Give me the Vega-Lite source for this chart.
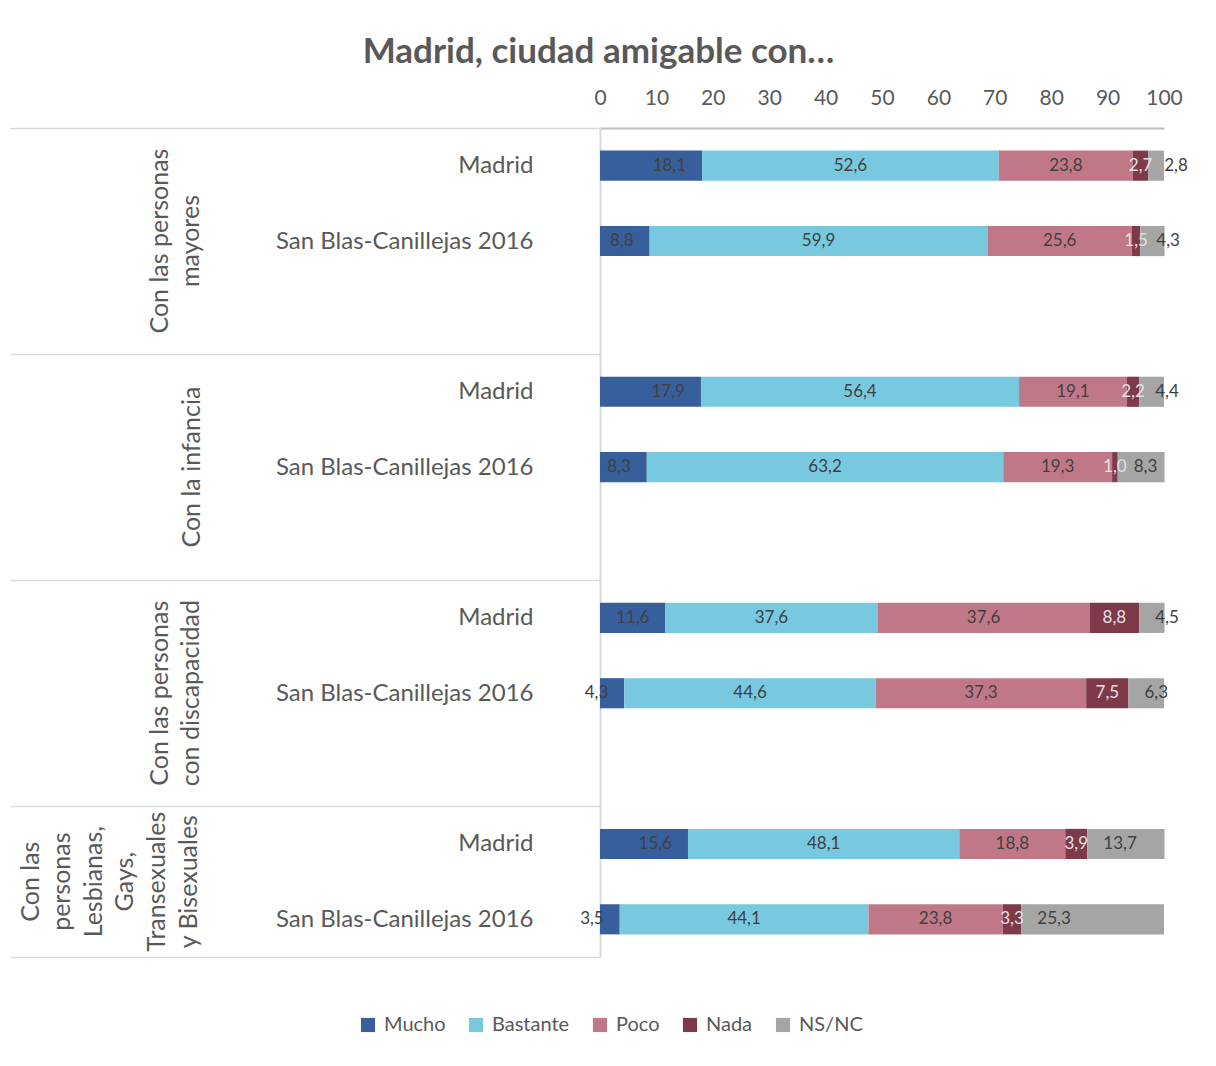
{
  "$schema": "https://vega.github.io/schema/vega-lite/v6.json",
  "width": 564,
  "height": 829,
  "autosize": {"type": "none"},
  "padding": {"left": 600, "top": 128, "right": 52, "bottom": 109},
  "title": {"text": "Madrid, ciudad amigable con…", "anchor": "middle", "frame": "bounds", "font": "Lato", "fontSize": 35, "fontWeight": "bold", "color": "#595959", "offset": 17},
  "data": {"values": [
    {"grupo": "Con las personas~mayores", "fila": "Madrid", "cat": "Mucho", "valor": 18.1},
    {"grupo": "Con las personas~mayores", "fila": "Madrid", "cat": "Bastante", "valor": 52.6},
    {"grupo": "Con las personas~mayores", "fila": "Madrid", "cat": "Poco", "valor": 23.8},
    {"grupo": "Con las personas~mayores", "fila": "Madrid", "cat": "Nada", "valor": 2.7},
    {"grupo": "Con las personas~mayores", "fila": "Madrid", "cat": "NS/NC", "valor": 2.8},
    {"grupo": "Con las personas~mayores", "fila": "San Blas-Canillejas 2016", "cat": "Mucho", "valor": 8.8},
    {"grupo": "Con las personas~mayores", "fila": "San Blas-Canillejas 2016", "cat": "Bastante", "valor": 59.9},
    {"grupo": "Con las personas~mayores", "fila": "San Blas-Canillejas 2016", "cat": "Poco", "valor": 25.6},
    {"grupo": "Con las personas~mayores", "fila": "San Blas-Canillejas 2016", "cat": "Nada", "valor": 1.5},
    {"grupo": "Con las personas~mayores", "fila": "San Blas-Canillejas 2016", "cat": "NS/NC", "valor": 4.3},
    {"grupo": "Con la infancia", "fila": "Madrid", "cat": "Mucho", "valor": 17.9},
    {"grupo": "Con la infancia", "fila": "Madrid", "cat": "Bastante", "valor": 56.4},
    {"grupo": "Con la infancia", "fila": "Madrid", "cat": "Poco", "valor": 19.1},
    {"grupo": "Con la infancia", "fila": "Madrid", "cat": "Nada", "valor": 2.2},
    {"grupo": "Con la infancia", "fila": "Madrid", "cat": "NS/NC", "valor": 4.4},
    {"grupo": "Con la infancia", "fila": "San Blas-Canillejas 2016", "cat": "Mucho", "valor": 8.3},
    {"grupo": "Con la infancia", "fila": "San Blas-Canillejas 2016", "cat": "Bastante", "valor": 63.2},
    {"grupo": "Con la infancia", "fila": "San Blas-Canillejas 2016", "cat": "Poco", "valor": 19.3},
    {"grupo": "Con la infancia", "fila": "San Blas-Canillejas 2016", "cat": "Nada", "valor": 1.0},
    {"grupo": "Con la infancia", "fila": "San Blas-Canillejas 2016", "cat": "NS/NC", "valor": 8.3},
    {"grupo": "Con las personas~con discapacidad", "fila": "Madrid", "cat": "Mucho", "valor": 11.6},
    {"grupo": "Con las personas~con discapacidad", "fila": "Madrid", "cat": "Bastante", "valor": 37.6},
    {"grupo": "Con las personas~con discapacidad", "fila": "Madrid", "cat": "Poco", "valor": 37.6},
    {"grupo": "Con las personas~con discapacidad", "fila": "Madrid", "cat": "Nada", "valor": 8.8},
    {"grupo": "Con las personas~con discapacidad", "fila": "Madrid", "cat": "NS/NC", "valor": 4.5},
    {"grupo": "Con las personas~con discapacidad", "fila": "San Blas-Canillejas 2016", "cat": "Mucho", "valor": 4.3},
    {"grupo": "Con las personas~con discapacidad", "fila": "San Blas-Canillejas 2016", "cat": "Bastante", "valor": 44.6},
    {"grupo": "Con las personas~con discapacidad", "fila": "San Blas-Canillejas 2016", "cat": "Poco", "valor": 37.3},
    {"grupo": "Con las personas~con discapacidad", "fila": "San Blas-Canillejas 2016", "cat": "Nada", "valor": 7.5},
    {"grupo": "Con las personas~con discapacidad", "fila": "San Blas-Canillejas 2016", "cat": "NS/NC", "valor": 6.3},
    {"grupo": "Con las~personas~Lesbianas,~Gays,~Transexuales~y Bisexuales", "fila": "Madrid", "cat": "Mucho", "valor": 15.6},
    {"grupo": "Con las~personas~Lesbianas,~Gays,~Transexuales~y Bisexuales", "fila": "Madrid", "cat": "Bastante", "valor": 48.1},
    {"grupo": "Con las~personas~Lesbianas,~Gays,~Transexuales~y Bisexuales", "fila": "Madrid", "cat": "Poco", "valor": 18.8},
    {"grupo": "Con las~personas~Lesbianas,~Gays,~Transexuales~y Bisexuales", "fila": "Madrid", "cat": "Nada", "valor": 3.9},
    {"grupo": "Con las~personas~Lesbianas,~Gays,~Transexuales~y Bisexuales", "fila": "Madrid", "cat": "NS/NC", "valor": 13.7},
    {"grupo": "Con las~personas~Lesbianas,~Gays,~Transexuales~y Bisexuales", "fila": "San Blas-Canillejas 2016", "cat": "Mucho", "valor": 3.5},
    {"grupo": "Con las~personas~Lesbianas,~Gays,~Transexuales~y Bisexuales", "fila": "San Blas-Canillejas 2016", "cat": "Bastante", "valor": 44.1},
    {"grupo": "Con las~personas~Lesbianas,~Gays,~Transexuales~y Bisexuales", "fila": "San Blas-Canillejas 2016", "cat": "Poco", "valor": 23.8},
    {"grupo": "Con las~personas~Lesbianas,~Gays,~Transexuales~y Bisexuales", "fila": "San Blas-Canillejas 2016", "cat": "Nada", "valor": 3.3},
    {"grupo": "Con las~personas~Lesbianas,~Gays,~Transexuales~y Bisexuales", "fila": "San Blas-Canillejas 2016", "cat": "NS/NC", "valor": 25.3}
  ]},
  "transform": [
    {"calculate": "indexof(['Mucho','Bastante','Poco','Nada','NS/NC'], datum.cat)", "as": "orden"},
    {"calculate": "datum.fila + '|' + datum.grupo", "as": "slot"},
    {"stack": "valor", "groupby": ["slot"], "sort": [{"field": "orden", "order": "ascending"}], "as": ["ini", "fin"]},
    {"calculate": "(datum.ini + datum.fin) / 2", "as": "medio"}
  ],
  "layer": [
    {
      "mark": {"type": "bar", "height": {"band": 0.4}},
      "encoding": {
        "y": {"field": "slot", "type": "nominal",
          "scale": {"domain": [
            "Madrid|Con las personas~mayores", "San Blas-Canillejas 2016|Con las personas~mayores", "|Con las personas~mayores",
            "Madrid|Con la infancia", "San Blas-Canillejas 2016|Con la infancia", "|Con la infancia",
            "Madrid|Con las personas~con discapacidad", "San Blas-Canillejas 2016|Con las personas~con discapacidad", "|Con las personas~con discapacidad",
            "Madrid|Con las~personas~Lesbianas,~Gays,~Transexuales~y Bisexuales", "San Blas-Canillejas 2016|Con las~personas~Lesbianas,~Gays,~Transexuales~y Bisexuales"],
            "paddingInner": 0, "paddingOuter": 0},
          "axis": {"orient": "left", "title": null, "tickBand": "extent", "tickSize": 590, "tickWidth": 1.5,
            "tickColor": {"condition": {"test": "datum.extra || indexof(datum.label, '|') == 0 || (indexof(datum.label, 'San Blas') == 0 && indexof(datum.label, 'Lesbianas') > 0)", "value": "#D9D9D9"}, "value": "transparent"},
            "domainColor": "#D9D9D9", "domainWidth": 2,
            "labelExpr": "split(datum.label, '|')[0]",
            "labelPadding": -523, "labelFont": "Lato", "labelFontSize": 24, "labelColor": "#595959", "labelLimit": 0,
            "labelAlign": "right", "labelBaseline": "middle", "labelOverlap": false}
        },
        "x": {"field": "ini", "type": "quantitative", "scale": {"domain": [0, 100], "nice": false},
          "axis": {"orient": "top", "title": null, "values": [0, 10, 20, 30, 40, 50, 60, 70, 80, 90, 100], "ticks": false, "grid": false,
            "domainColor": "#BFBFBF", "domainWidth": 2, "labelFont": "Lato", "labelFontSize": 21, "labelColor": "#595959", "labelPadding": 20, "labelFlush": false, "labelOverlap": false}},
        "x2": {"field": "fin"},
        "color": {"field": "cat", "type": "nominal",
          "scale": {"domain": ["Mucho", "Bastante", "Poco", "Nada", "NS/NC"], "range": ["#375F9B", "#78C9DF", "#C07888", "#7E3A4A", "#A5A5A5"]},
          "legend": {"orient": "none", "legendX": -242, "legendY": 887, "direction": "horizontal", "columns": 5, "title": null,
            "symbolType": "square", "symbolSize": 200, "symbolStrokeWidth": 0, "labelFont": "Lato", "labelFontSize": 20, "labelColor": "#595959", "columnPadding": 20, "labelOffset": 6}}
      }
    },
    {
      "transform": [{"filter": "datum.cat == 'Mucho'"}],
      "mark": {"type": "text", "align": "right", "dx": -16, "baseline": "middle", "font": "Lato", "fontSize": 17, "color": "#404040"},
      "encoding": {
        "y": {"field": "slot", "type": "nominal",
          "scale": {"domain": [
            "Madrid|Con las personas~mayores", "San Blas-Canillejas 2016|Con las personas~mayores", "|Con las personas~mayores",
            "Madrid|Con la infancia", "San Blas-Canillejas 2016|Con la infancia", "|Con la infancia",
            "Madrid|Con las personas~con discapacidad", "San Blas-Canillejas 2016|Con las personas~con discapacidad", "|Con las personas~con discapacidad",
            "Madrid|Con las~personas~Lesbianas,~Gays,~Transexuales~y Bisexuales", "San Blas-Canillejas 2016|Con las~personas~Lesbianas,~Gays,~Transexuales~y Bisexuales"],
            "paddingInner": 0, "paddingOuter": 0},
          "axis": {"orient": "left", "title": null, "ticks": false, "domain": false,
            "values": ["San Blas-Canillejas 2016|Con las personas~mayores", "San Blas-Canillejas 2016|Con las personas~con discapacidad"],
            "labelExpr": "split(split(datum.label, '|')[1], '~')",
            "labelAngle": 270, "labelAlign": "center", "labelBaseline": "bottom", "labelPadding": 428, "labelLineHeight": 31,
            "labelFont": "Lato", "labelFontSize": 25, "labelColor": "#595959", "labelLimit": 0, "labelOverlap": false, "labelBound": false}
        },
        "x": {"field": "fin", "type": "quantitative", "axis": null},
        "text": {"field": "valor", "type": "quantitative", "format": ".1f"}
      }
    },
    {
      "transform": [{"filter": "datum.cat != 'Mucho' && datum.cat != 'NS/NC'"}],
      "mark": {"type": "text", "align": "center", "baseline": "middle", "font": "Lato", "fontSize": 17},
      "encoding": {
        "y": {"field": "slot", "type": "nominal",
          "scale": {"domain": [
            "Madrid|Con las personas~mayores", "San Blas-Canillejas 2016|Con las personas~mayores", "|Con las personas~mayores",
            "Madrid|Con la infancia", "San Blas-Canillejas 2016|Con la infancia", "|Con la infancia",
            "Madrid|Con las personas~con discapacidad", "San Blas-Canillejas 2016|Con las personas~con discapacidad", "|Con las personas~con discapacidad",
            "Madrid|Con las~personas~Lesbianas,~Gays,~Transexuales~y Bisexuales", "San Blas-Canillejas 2016|Con las~personas~Lesbianas,~Gays,~Transexuales~y Bisexuales"],
            "paddingInner": 0, "paddingOuter": 0},
          "axis": {"orient": "left", "title": null, "ticks": false, "domain": false,
            "values": ["San Blas-Canillejas 2016|Con la infancia"],
            "labelExpr": "split(split(datum.label, '|')[1], '~')",
            "labelAngle": 270, "labelAlign": "center", "labelBaseline": "bottom", "labelPadding": 396, "labelLineHeight": 31,
            "labelFont": "Lato", "labelFontSize": 25, "labelColor": "#595959", "labelLimit": 0, "labelOverlap": false, "labelBound": false}},
        "x": {"field": "medio", "type": "quantitative", "axis": null},
        "text": {"field": "valor", "type": "quantitative", "format": ".1f"},
        "color": {"condition": {"test": "datum.cat == 'Nada'", "value": "#E4E0E1"}, "value": "#404040"}
      }
    },
    {
      "transform": [{"filter": "datum.cat == 'NS/NC'"}],
      "mark": {"type": "text", "align": "left", "dx": 16, "baseline": "middle", "font": "Lato", "fontSize": 17, "color": "#404040"},
      "encoding": {
        "y": {"field": "slot", "type": "nominal",
          "scale": {"domain": [
            "Madrid|Con las personas~mayores", "San Blas-Canillejas 2016|Con las personas~mayores", "|Con las personas~mayores",
            "Madrid|Con la infancia", "San Blas-Canillejas 2016|Con la infancia", "|Con la infancia",
            "Madrid|Con las personas~con discapacidad", "San Blas-Canillejas 2016|Con las personas~con discapacidad", "|Con las personas~con discapacidad",
            "Madrid|Con las~personas~Lesbianas,~Gays,~Transexuales~y Bisexuales", "San Blas-Canillejas 2016|Con las~personas~Lesbianas,~Gays,~Transexuales~y Bisexuales"],
            "paddingInner": 0, "paddingOuter": 0},
          "axis": {"orient": "left", "title": null, "ticks": false, "domain": false,
            "values": ["Madrid|Con las~personas~Lesbianas,~Gays,~Transexuales~y Bisexuales"],
            "labelExpr": "split(split(datum.label, '|')[1], '~')",
            "labelOffset": 37.7,
            "labelAngle": 270, "labelAlign": "center", "labelBaseline": "bottom", "labelPadding": 557, "labelLineHeight": 31.6,
            "labelFont": "Lato", "labelFontSize": 25, "labelColor": "#595959", "labelLimit": 0, "labelOverlap": false, "labelBound": false}
        },
        "x": {"field": "ini", "type": "quantitative", "axis": null},
        "text": {"field": "valor", "type": "quantitative", "format": ".1f"}
      }
    }
  ],
  "resolve": {"axis": {"x": "independent", "y": "independent"}},
  "config": {
    "view": {"stroke": null},
    "font": "Lato",
    "locale": {"number": {"decimal": ",", "thousands": ".", "grouping": [3], "currency": ["", " €"]}}
  }
}
